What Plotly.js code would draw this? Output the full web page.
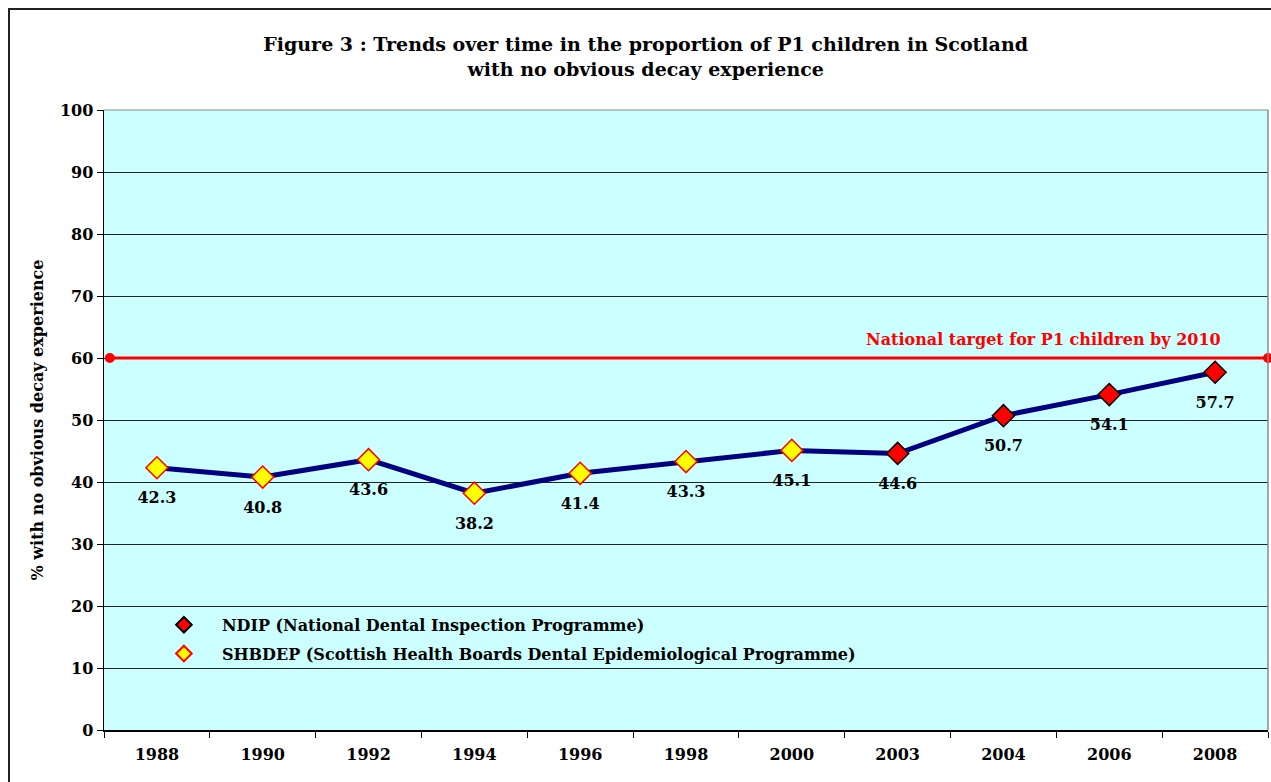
<!DOCTYPE html>
<html><head><meta charset="utf-8">
<script src="https://cdn.plot.ly/plotly-3.0.1.min.js"></script>
<style>html,body{margin:0;padding:0;background:#fff}#chart{width:1271px;height:782px}</style>
</head><body><div id="chart"></div>
<script>
const years = ["1988","1990","1992","1994","1996","1998","2000","2003","2004","2006","2008"];
const values = [42.3, 40.8, 43.6, 38.2, 41.4, 43.3, 45.1, 44.6, 50.7, 54.1, 57.7];
const shbdepYears = ["1988","1990","1992","1994","1996","1998","2000"];
const shbdepValues = [42.3, 40.8, 43.6, 38.2, 41.4, 43.3, 45.1];
const ndipYears = ["2003","2004","2006","2008"];
const ndipValues = [44.6, 50.7, 54.1, 57.7];
const targetValue = 60;
const targetLabel = "National target for P1 children by 2010";

const F = "DejaVu Serif, Liberation Serif, serif";

const traces = [
  {x: years, y: values, type: "scatter", mode: "lines", line: {color: "#000080", width: 5}, showlegend: false, hoverinfo: "skip"},
  {x: years, y: values, type: "scatter", mode: "markers+text", text: values.map(v => v.toFixed(1)),
   textposition: "bottom center", marker: {size: 36, color: "rgba(0,0,0,0)"},
   textfont: {family: F, size: 16, color: "#000", weight: "bold"}, showlegend: false, hoverinfo: "skip", cliponaxis: false},
  {x: ndipYears, y: ndipValues, type: "scatter", mode: "markers", name: "NDIP (National Dental Inspection Programme)",
   legendgroup: "a",
   marker: {symbol: "diamond", size: 17, color: "#FF0000", line: {color: "#000000", width: 1.5}}},
  {x: shbdepYears, y: shbdepValues, type: "scatter", mode: "markers", name: "SHBDEP (Scottish Health Boards Dental Epidemiological Programme)",
   legendgroup: "b",
   marker: {symbol: "diamond", size: 17, color: "#FFFF00", line: {color: "#FF0000", width: 1.5}}},
  {x: [0.005, 1], y: [targetValue, targetValue], xaxis: "x2", type: "scatter", mode: "lines+markers",
   line: {color: "#FF0000", width: 3}, marker: {color: "#FF0000", size: 10}, showlegend: false, cliponaxis: false, hoverinfo: "skip"}
];

const annotations = [
  {x: 0.653, xref: "paper", xanchor: "left", y: targetValue, yref: "y", yshift: 19, text: targetLabel, showarrow: false,
   font: {family: F, size: 16, color: "#FF0000", weight: "bold"}}
];

const layout = {
  width: 1271, height: 782,
  margin: {l: 104, r: 3, t: 110, b: 52},
  paper_bgcolor: "#ffffff", plot_bgcolor: "#CCFFFF",
  font: {family: F, size: 16, color: "#000"},
  title: {text: "<b>Figure 3 : Trends over time in the proportion of P1 children in Scotland<br>with no obvious decay experience</b>",
    x: 0.508, xanchor: "center", y: 0.9345, yanchor: "top", font: {family: F, size: 19, color: "#000"}},
  xaxis: {type: "category", categoryorder: "array", categoryarray: years, range: [-0.5, 10.5],
    tickson: "boundaries", ticks: "outside", ticklen: 6, tickcolor: "#000", showgrid: false,
    showline: true, linecolor: "#000", linewidth: 1.5, zeroline: false, ticklabelstandoff: 9,
    tickfont: {family: F, size: 16, color: "#000", weight: "bold"}},
  xaxis2: {overlaying: "x", range: [0, 1], visible: false, fixedrange: true},
  yaxis: {range: [0, 100], dtick: 10, ticks: "outside", ticklen: 6, tickcolor: "#000",
    showgrid: true, gridcolor: "#222", gridwidth: 1, showline: true, linecolor: "#000", linewidth: 1.5,
    zeroline: false, tickfont: {family: F, size: 16, color: "#000", weight: "bold"},
    title: {text: "% with no obvious decay experience", standoff: 12, font: {family: F, size: 16, color: "#000", weight: "bold"}}},
  legend: {x: 0.036, y: 0.197, xanchor: "left", yanchor: "top", bgcolor: "rgba(0,0,0,0)",
    font: {family: F, size: 16, color: "#000", weight: "bold"}, itemsizing: "constant", itemwidth: 66,
    tracegroupgap: 5},
  annotations: annotations,
  shapes: [
    {type: "line", xref: "paper", yref: "paper", x0: 1, x1: 1, y0: 0, y1: 1, line: {color: "#888", width: 1.5}},
    {type: "line", xref: "paper", yref: "paper", x0: 0, x1: 1, y0: 1, y1: 1, line: {color: "#888", width: 1}},
    {type: "rect", xref: "paper", yref: "paper", x0: -0.0816, x1: 1.05, y0: -0.2, y1: 1.163, line: {color: "#222", width: 2}}
  ],
  showlegend: true
};

Plotly.newPlot("chart", traces, layout, {displayModeBar: false, staticPlot: true});
</script>
</body></html>
